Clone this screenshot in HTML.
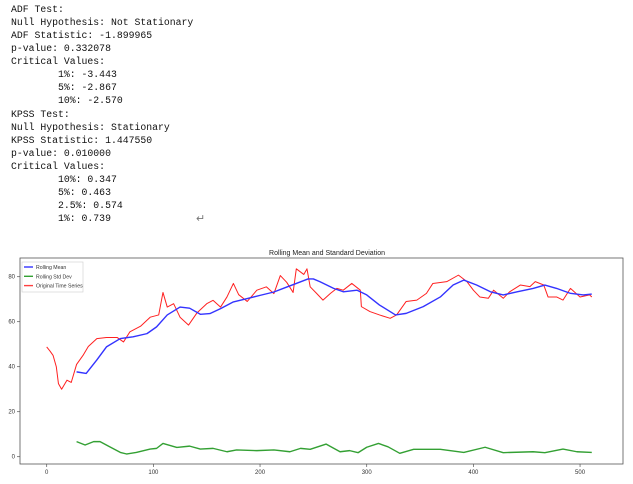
<!DOCTYPE html>
<html><head><meta charset="utf-8"><style>
body{margin:0;width:633px;height:484px;background:#fff;overflow:hidden;position:relative;font-family:"Liberation Sans",sans-serif}
#out{position:absolute;left:11px;top:3px;margin:0;font-family:"Liberation Mono",monospace;font-size:9.8px;line-height:13.07px;color:#111;white-space:pre}
#ret{position:absolute;left:196px;top:212px;font-size:11px;color:#777}
svg{position:absolute;left:0;top:0}
</style></head><body>
<pre id="out">ADF Test:
Null Hypothesis: Not Stationary
ADF Statistic: -1.899965
p-value: 0.332078
Critical Values:
        1%: -3.443
        5%: -2.867
        10%: -2.570
KPSS Test:
Null Hypothesis: Stationary
KPSS Statistic: 1.447550
p-value: 0.010000
Critical Values:
        10%: 0.347
        5%: 0.463
        2.5%: 0.574
        1%: 0.739</pre>
<div id="ret">↵</div>
<svg id="chart" width="633" height="484"></svg>
<script>
const redX=[0,3,6,9,11,14,19,23,28,34,39,47,56,66,72,78,88,97,105,109,113,119,125,133,141,150,156,163,169,175,180,188,197,206,213,219,225,231,234,241,244,247,253,259,266,272,278,286,294,295,303,312,322,328,337,347,356,362,375,386,394,400,406,414,419,428,434,444,453,458,466,470,478,484,491,500,509,511];
const redY=[48.8,47,45,40,32.5,30,34,33,41,45,49,52.5,53,53,51,55.5,58,62,63,73,66.5,68,62,58.5,64,68,69.5,66.5,71,77,72,69,74,75.5,72.5,80.5,77.5,73,83.5,81,83.5,75.5,72.6,69.6,72.6,74.8,74,77,74,66.7,64.5,63,61.5,63,69,69.6,72.6,77,77.8,80.7,77.8,74,71,70.4,74,70.4,73.3,76.3,75.6,77.8,76.3,71,71,69.6,74.8,71,71.9,71];
const meanX=[28,37,47,56,69,81,94,103,113,125,134,144,153,163,175,188,200,213,225,234,245,250,256,269,278,291,300,312,327,337,353,369,381,391,403,416,428,441,456,467,478,491,503,511];
const meanY=[37.7,37,43,48.8,52.5,53.3,54.7,57.7,63,66.5,66,63.3,63.6,65.8,68.8,70.3,71.7,73.2,75.4,77,79,79,77.8,74.8,73.3,74,71.9,67.4,63,63.7,66.7,71,76.3,78.5,76.3,73.3,71.9,73.3,74.8,76.3,74.8,72.6,71.9,72.3];
const stdX=[28,36,44,50,59,69,75,84,97,103,109,122,134,144,156,169,178,197,213,228,238,247,262,275,284,292,300,311,320,331,344,369,391,411,428,456,467,484,497,511];
const stdY=[6.7,5.2,6.7,6.7,4.4,1.9,1.2,1.9,3.4,3.7,5.9,4.1,4.7,3.4,3.7,2.2,3,2.7,3,2.2,3.7,3.3,5.6,2.2,2.7,1.8,4.2,5.9,4.4,1.5,3.3,3.3,1.9,4.2,1.8,2.2,1.8,3.4,2.2,1.9];
const xTicks=[0,100,200,300,400,500];
const yTicks=[0,20,40,60,80];
const NS='http://www.w3.org/2000/svg';
const svg=document.getElementById('chart');
const X=v=>46.7+v*1.0667, Y=v=>456.7-v*2.25;
function mk(t,a){const e=document.createElementNS(NS,t);for(const k in a)e.setAttribute(k,a[k]);svg.appendChild(e);return e;}
const frame=mk('rect',{x:20,y:258,width:603,height:206,fill:'none',stroke:'#555','stroke-width':0.8});


const title=mk('text',{x:327,y:255,'font-size':7,'text-anchor':'middle',fill:'#222'});title.textContent='Rolling Mean and Standard Deviation';


xTicks.forEach(t=>{const l=mk('line',{x1:X(t),x2:X(t),y1:464,y2:467,stroke:'#555','stroke-width':0.7});


const tx=mk('text',{x:X(t),y:474,'font-size':6,'text-anchor':'middle',fill:'#333'});tx.textContent=t;

});
yTicks.forEach(t=>{const l=mk('line',{x1:17,x2:20,y1:Y(t),y2:Y(t),stroke:'#555','stroke-width':0.7});


const tx=mk('text',{x:15,y:Y(t)+2,'font-size':6,'text-anchor':'end',fill:'#333'});tx.textContent=t;

});
function line(xs,ys,c,w,name){const p=mk('polyline',{points:xs.map((x,i)=>X(x)+','+Y(ys[i])).join(' '),fill:'none',stroke:c,'stroke-width':w,'stroke-linejoin':'round'});

}
line(redX,redY,'#ff2020',1,'original-series-line');
line(meanX,meanY,'#3333ff',1.4,'rolling-mean-line');
line(stdX,stdY,'#33a033',1.4,'rolling-std-line');
const lg=mk('rect',{x:22,y:262,width:61,height:30,fill:'#fff',stroke:'#ccc','stroke-width':0.6});


[['Rolling Mean','#3333ff'],['Rolling Std Dev','#33a033'],['Original Time Series','#ff4040']].forEach((e,i)=>{const y=267+i*9.3;
const l=mk('line',{x1:24,x2:33,y1:y,y2:y,stroke:e[1],'stroke-width':1.4});


const t=mk('text',{x:36,y:y+2,'font-size':5.2,fill:'#333'});t.textContent=e[0];

});
</script>
</body></html>
